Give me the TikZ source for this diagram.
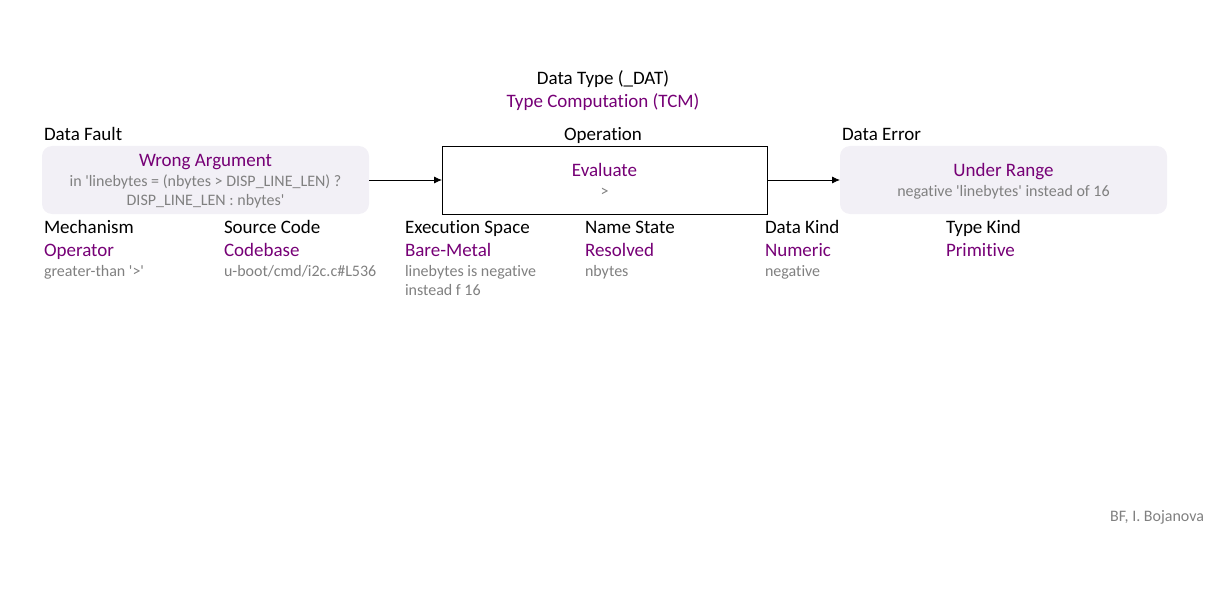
\documentclass[tikz,border=0pt]{standalone}
\usepackage{fontspec}
\setmainfont{Carlito}[Ligatures={TeXOff,NoCommon}]
\usetikzlibrary{arrows.meta}
\definecolor{purp}{RGB}{118,0,118}
\definecolor{txtgray}{RGB}{128,128,128}
\definecolor{boxfill}{RGB}{242,240,246}

\begin{document}
\begin{tikzpicture}[%
	x=1pt,y=-1pt,
	every node/.style = {inner sep=0pt,outer sep=0pt},
	head/.style={anchor=base west,font=\fontsize{19}{22}\selectfont,text=black},
	val/.style={anchor=base west,font=\fontsize{19}{22}\selectfont,text=purp},
	note/.style={anchor=base west,font=\fontsize{16}{19}\selectfont,text=txtgray},
	classbox/.style={fill=boxfill,rounded corners=10pt,minimum width=327pt,minimum height=68pt},
	opbox/.style={draw=black,fill=white,line width=0.8pt,minimum width=325pt,minimum height=68pt},
	flow/.style={-{Latex[length=8pt,width=7pt]},line width=0.8pt}
	]
  \useasboundingbox (0,0) rectangle (1207,591);
  % title
  \node [head,anchor=base] (bugtype) at (603,85) {Data Type (\_DAT)};
  \node [val,anchor=base] (bugclass) at (603,108) {Type Computation (TCM)};
  % the three boxes
  \node [head] (faultlbl) at (44,140) {Data Fault};
  \node [head,anchor=base] (oplbl) at (603,140) {Operation};
  \node [head] (errlbl) at (842,140) {Data Error};
  \node [classbox] (fault) at (205.5,180) {};
  \node [opbox] (oper) at (604.5,180) {};
  \node [classbox] (err) at (1003.5,180) {};
  \node [val,anchor=base] (faultval) at (205.5,166) {Wrong Argument};
  \node [note,anchor=base] (faultnote1) at (205.5,186) {in 'linebytes = (nbytes > DISP\_LINE\_LEN) ?};
  \node [note,anchor=base] (faultnote2) at (205.5,205) {DISP\_LINE\_LEN : nbytes'};
  \node [val,anchor=base] (opval) at (604.5,176) {Evaluate};
  \node [note,anchor=base] (opnote) at (604.5,196) {>};
  \node [val,anchor=base] (errval) at (1003.5,176) {Under Range};
  \node [note,anchor=base] (errnote) at (1003.5,196) {negative 'linebytes' instead of 16};
  \draw [flow] (fault.east) -- (oper.west);
  \draw [flow] (oper.east) -- (err.west);
  % attributes
  \node [head] (mech) at (44,233) {Mechanism};
  \node [val] (mechval) at (44,256) {Operator};
  \node [note] (mechnote) at (44,276) {greater-than '>'};
  \node [head] (src) at (224,233) {Source Code};
  \node [val] (srcval) at (224,256) {Codebase};
  \node [note] (srcnote) at (224,276) {u-boot/cmd/i2c.c\#L536};
  \node [head] (exec) at (405,233) {Execution Space};
  \node [val] (execval) at (405,256) {Bare-Metal};
  \node [note] (execnote1) at (405,276) {linebytes is negative};
  \node [note] (execnote2) at (405,295) {instead f 16};
  \node [head] (name) at (585,233) {Name State};
  \node [val] (nameval) at (585,256) {Resolved};
  \node [note] (namenote) at (585,276) {nbytes};
  \node [head] (dkind) at (765,233) {Data Kind};
  \node [val] (dkindval) at (765,256) {Numeric};
  \node [note] (dkindnote) at (765,276) {negative};
  \node [head] (tkind) at (946,233) {Type Kind};
  \node [val] (tkindval) at (946,256) {Primitive};
  % credit
  \node [note,anchor=base east] (credit) at (1204,521) {BF, I. Bojanova};
\end{tikzpicture}
\end{document}
